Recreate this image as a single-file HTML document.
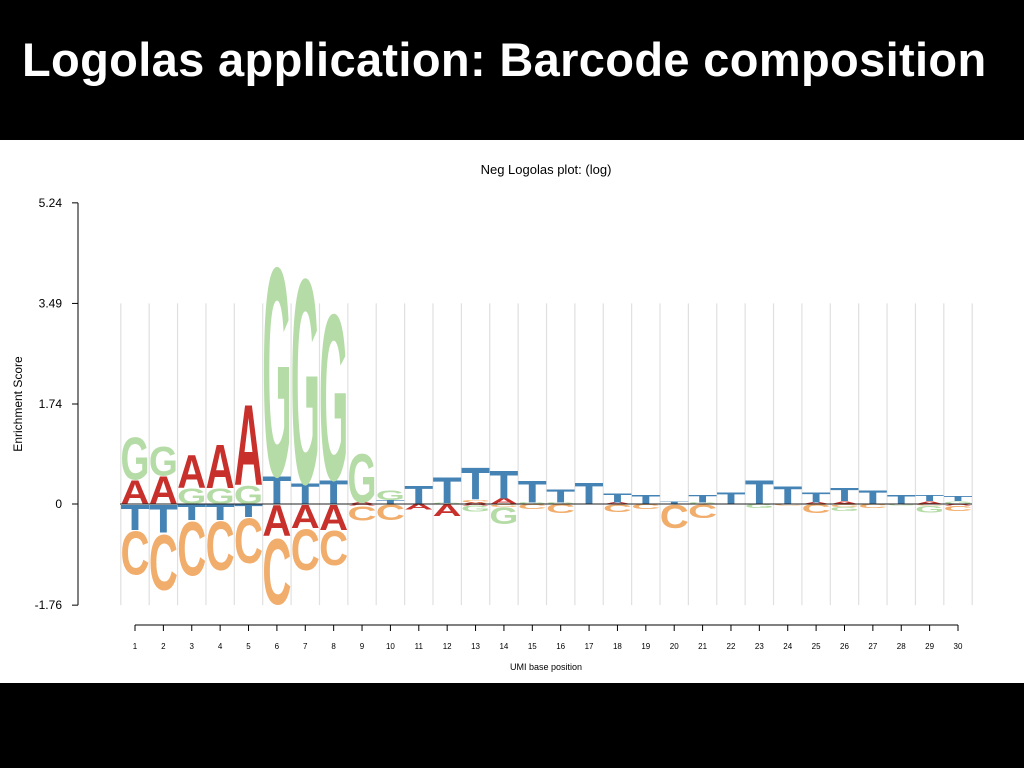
<!DOCTYPE html>
<html><head><meta charset="utf-8"><style>
body{margin:0;width:1024px;height:768px;overflow:hidden;background:#000;font-family:"Liberation Sans",sans-serif}
#top{position:absolute;left:0;top:0;width:1024px;height:140px;background:#000}
#top h1{margin:0;position:absolute;left:22px;top:32px;color:#fff;font-size:47px;font-weight:bold;letter-spacing:0.35px}
#chart{position:absolute;left:0;top:140px}
</style></head><body>
<div id="top"><h1>Logolas application: Barcode composition</h1></div>
<svg id="chart" width="1024" height="543" viewBox="0 140 1024 543">
<rect x="0" y="140" width="1024" height="543" fill="#fff"/>
<g id="grid"></g><g id="letters"></g><g id="axes"></g>
</svg>
<script>
const positions=[1,2,3,4,5,6,7,8,9,10,11,12,13,14,15,16,17,18,19,20,21,22,23,24,25,26,27,28,29,30];
const yTicks=[-1.76,0,1.74,3.49,5.24];
const yTickLabels=["-1.76","0","1.74","3.49","5.24"];
const posA=[0.43,0.50,0.59,0.78,1.44,0,0,0,0.03,0,0,0,0.03,0.10,0,0,0,0.03,0,0,0,0,0,0,0.03,0.05,0,0,0.05,0];
const posC=[0,0,0,0,0,0,0,0,0,0,0,0,0.05,0,0,0,0,0,0,0,0,0,0,0,0,0,0,0,0,0];
const posG=[0.75,0.52,0.28,0.28,0.33,3.74,3.67,2.97,0.87,0.17,0,0.02,0,0,0.03,0.03,0,0,0,0,0.03,0,0,0,0,0,0,0,0,0.05];
const posT=[0,0,0,0,0,0.50,0.37,0.43,0,0.07,0.33,0.47,0.57,0.50,0.40,0.23,0.38,0.16,0.16,0.05,0.14,0.21,0.43,0.31,0.19,0.23,0.24,0.16,0.10,0.09];
const negA=[0,0,0,0,0,0.56,0.42,0.45,0.03,0,0.10,0.21,0.03,0,0,0,0,0,0,0,0,0,0,0,0,0,0,0,0,0.03];
const negC=[0.78,0.99,0.96,0.87,0.80,1.18,0.73,0.61,0.26,0.28,0,0,0,0.05,0.09,0.16,0,0.14,0.09,0.42,0.24,0,0,0.03,0.16,0.05,0.07,0,0.03,0.09];
const negG=[0,0,0,0,0,0,0,0,0,0,0,0,0.10,0.30,0,0,0,0,0,0,0,0,0.07,0,0,0.07,0,0.03,0.12,0];
const negT=[0.45,0.50,0.28,0.28,0.23,0,0,0,0,0,0,0,0,0,0,0,0,0,0,0,0,0,0,0,0,0,0,0,0,0];
const colors={A:"#c8302c",C:"#f1ad6c",G:"#b5dca7",T:"#4683b5"};
const NS="http://www.w3.org/2000/svg";
const y0=504, unit=100/1.74;
function ys(v){return y0-v*unit;}
function xs(p){return 135+(p-1)*(958-135)/29;}
function mk(tag,attrs,parent){const e=document.createElementNS(NS,tag);for(const k in attrs)e.setAttribute(k,attrs[k]);parent.appendChild(e);return e;}
const grid=document.getElementById('grid'),L=document.getElementById('letters'),ax=document.getElementById('axes');
for(let i=0;i<=positions.length;i++){const gx=xs(positions[0]+i-0.5);
 const g=mk('line',{x1:gx,x2:gx,y1:ys(3.49),y2:ys(-1.76),stroke:"#e0e0e0","stroke-width":1.2},grid);
 
 }
function letter(ch,x,yb,h){ if(h<0.5)return;
 const t=mk('text',{x:x-14.5,y:0,"font-size":100,"font-weight":"bold",fill:colors[ch],textLength:29,lengthAdjust:"spacingAndGlyphs",
  transform:`translate(0,${yb}) scale(1,${h/72})`,"font-family":"Liberation Sans, sans-serif"},L);
 t.textContent=ch;
 
 }
positions.forEach((p,i)=>{const x=xs(p);
 const pos=[["A",posA[i]],["C",posC[i]],["G",posG[i]],["T",posT[i]]].filter(d=>d[1]>0).sort((a,b)=>a[1]-b[1]);
 let cur=0;pos.forEach(d=>{const yb=ys(cur);cur+=d[1];letter(d[0],x,yb,yb-ys(cur));});
 const neg=[["A",negA[i]],["C",negC[i]],["G",negG[i]],["T",negT[i]]].filter(d=>d[1]>0).sort((a,b)=>a[1]-b[1]);
 cur=0;neg.forEach(d=>{const yt=ys(-cur);cur+=d[1];const yb=ys(-cur);letter(d[0],x,yb,yb-yt);});
});
const zl=mk('line',{x1:120,x2:972,y1:y0,y2:y0,stroke:"#222","stroke-width":1},ax);


const ya=mk('line',{x1:78,x2:78,y1:ys(5.24),y2:ys(-1.76),stroke:"#000"},ax);


yTicks.forEach((v,i)=>{mk('line',{x1:72,x2:78,y1:ys(v),y2:ys(v),stroke:"#000"},ax);
 const t=mk('text',{x:62,y:ys(v)+4,"text-anchor":"end","font-size":12},ax);t.textContent=yTickLabels[i];
 
 });
const xa=mk('line',{x1:xs(1),x2:xs(30),y1:625,y2:625,stroke:"#000"},ax);


positions.forEach(p=>{mk('line',{x1:xs(p),x2:xs(p),y1:625,y2:631,stroke:"#000"},ax);
 const t=mk('text',{x:xs(p),y:649,"text-anchor":"middle","font-size":8},ax);t.textContent=p;
 
 });
</script>
<svg width="1024" height="768" style="position:absolute;left:0;top:0;pointer-events:none">
<text x="546" y="174" text-anchor="middle" font-size="13" font-family="Liberation Sans, sans-serif">Neg Logolas plot: (log)</text>
<text x="546" y="670" text-anchor="middle" font-size="9" font-family="Liberation Sans, sans-serif">UMI base position</text>
<text transform="translate(22,404) rotate(-90)" text-anchor="middle" font-size="12" font-family="Liberation Sans, sans-serif">Enrichment Score</text>
</svg>
</body></html>
